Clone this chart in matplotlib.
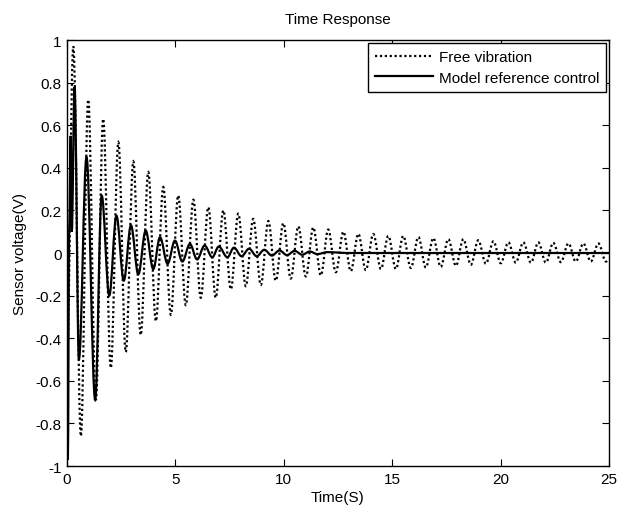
import matplotlib
matplotlib.use("Agg")
import matplotlib.pyplot as plt
from matplotlib.path import Path
from matplotlib.patches import PathPatch
from matplotlib.lines import Line2D

plt.rcParams['font.family'] = ['Liberation Sans', 'DejaVu Sans']

# Free vibration: extrema (alternating peak / trough)
free_t = [0.00, 0.29, 0.64, 0.98, 1.33, 1.67, 2.02, 2.37, 2.71, 3.06, 3.40,
          3.75, 4.10, 4.44, 4.79, 5.13, 5.48, 5.83, 6.17, 6.52, 6.86,
          7.21, 7.56, 7.90, 8.25, 8.59, 8.94, 9.29, 9.63, 9.98, 10.32,
          10.67, 11.02, 11.36, 11.71, 12.05, 12.40, 12.75, 13.09, 13.44, 13.78,
          14.13, 14.48, 14.82, 15.17, 15.51, 15.86, 16.21, 16.55, 16.90, 17.24,
          17.59, 17.94, 18.28, 18.63, 18.97, 19.32, 19.67, 20.01, 20.36, 20.70,
          21.05, 21.40, 21.74, 22.09, 22.43, 22.78, 23.13, 23.47, 23.82, 24.16,
          24.51, 24.86, 25.00]
free_v = [-0.50, 0.97, -0.86, 0.72, -0.69, 0.63, -0.54, 0.52, -0.465, 0.43, -0.385,
          0.38, -0.32, 0.31, -0.29, 0.27, -0.245, 0.25, -0.21, 0.215, -0.21,
          0.20, -0.17, 0.185, -0.156, 0.16, -0.15, 0.15, -0.13, 0.14, -0.12,
          0.125, -0.11, 0.12, -0.105, 0.11, -0.09, 0.10, -0.085, 0.09, -0.08,
          0.089, -0.075, 0.08, -0.075, 0.08, -0.07, 0.075, -0.068, 0.07, -0.065,
          0.065, -0.06, 0.065, -0.055, 0.06, -0.05, 0.055, -0.048, 0.05, -0.045,
          0.05, -0.045, 0.05, -0.045, 0.048, -0.043, 0.045, -0.04, 0.045, -0.04,
          0.045, -0.04, -0.03]

# Model reference control: extrema
ctrl_t = [0.00, 0.04, 0.10, 0.17, 0.22, 0.35, 0.55, 0.90, 1.30, 1.60, 1.95,
          2.28, 2.62, 2.95, 3.29, 3.63, 3.98, 4.29, 4.64, 4.98, 5.32,
          5.67, 6.00, 6.35, 6.70, 7.00, 7.40, 7.70, 8.05, 8.40, 8.75,
          9.10, 9.45, 9.80, 10.15, 10.50, 10.85, 11.20, 11.55, 12.00, 13.00, 25.00]
ctrl_v = [0.00, -0.97, 0.10, 0.55, 0.10, 0.78, -0.50, 0.45, -0.69, 0.27, -0.20,
          0.175, -0.13, 0.13, -0.10, 0.105, -0.075, 0.074, -0.05, 0.058, -0.04,
          0.042, -0.03, 0.035, -0.02, 0.03, -0.02, 0.025, -0.015, 0.02, -0.015,
          0.015, -0.012, 0.012, -0.01, 0.01, -0.008, 0.007, -0.005, 0.004, 0.0, 0.0]

series_labels = ['Free vibration', 'Model reference control']
x_ticks = [0, 5, 10, 15, 20, 25]
y_ticks = [-1, -0.8, -0.6, -0.4, -0.2, 0, 0.2, 0.4, 0.6, 0.8, 1]
y_tick_labels = ['-1', '-0.8', '-0.6', '-0.4', '-0.2', '0', '0.2', '0.4', '0.6', '0.8', '1']

FS = 11
DOT = (0, (1, 1.2))


def smooth_path(t, v):
    """Cubic Bezier through the extrema, with flat tangents at each extremum."""
    verts = [(t[0], v[0])]
    codes = [Path.MOVETO]
    for i in range(1, len(t)):
        h = t[i] - t[i - 1]
        verts += [(t[i - 1] + 0.36 * h, v[i - 1]), (t[i] - 0.36 * h, v[i]), (t[i], v[i])]
        codes += [Path.CURVE4] * 3
    return Path(verts, codes)


fig = plt.figure(figsize=(6.18, 5.10), dpi=100)
ax = fig.add_axes([0.1084, 0.0843, 0.877, 0.8353])

ax.add_patch(PathPatch(smooth_path(free_t, free_v), fill=False, edgecolor='black',
                       linewidth=1.6, linestyle=DOT))
ax.add_patch(PathPatch(smooth_path(ctrl_t, ctrl_v), fill=False, edgecolor='black',
                       linewidth=1.6, linestyle='-'))

ax.set_xlim(0, 25)
ax.set_ylim(-1, 1)
ax.set_xticks(x_ticks)
ax.set_yticks(y_ticks)
ax.set_yticklabels(y_tick_labels)
ax.tick_params(direction='in', top=True, right=True, length=5, labelsize=FS,
               width=0.8, pad=4)
for s in ax.spines.values():
    s.set_linewidth(1.0)

ax.set_title('Time Response', fontsize=FS, pad=12)
ax.set_xlabel('Time(S)', fontsize=FS, labelpad=3)
ax.set_ylabel('Sensor voltage(V)', fontsize=FS, labelpad=6)

handles = [Line2D([], [], color='black', linewidth=1.6, linestyle=DOT),
           Line2D([], [], color='black', linewidth=1.6, linestyle='-')]
leg = ax.legend(handles, series_labels, loc='upper right', fontsize=FS, frameon=True,
                fancybox=False, handlelength=3.8, borderaxespad=0.2, edgecolor='black',
                framealpha=1, borderpad=0.45, labelspacing=0.45, handletextpad=0.4)
leg.get_frame().set_linewidth(1.0)

fig.savefig('out.png', dpi=100)
